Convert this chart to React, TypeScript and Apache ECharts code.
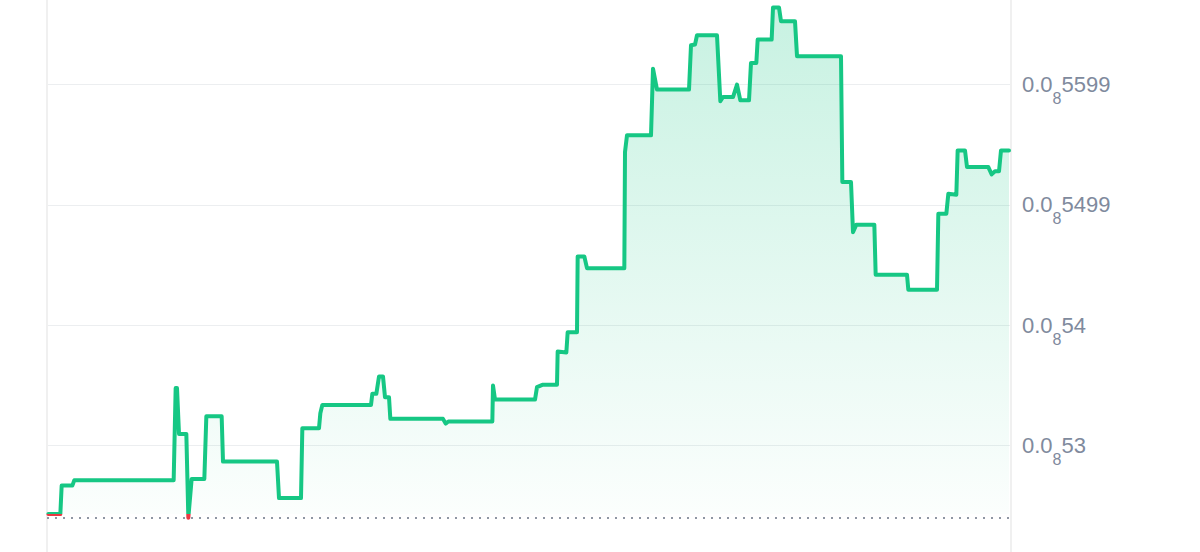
import React, { useEffect, useRef } from "react";
import * as echarts from "echarts";

// time in minutes since start of window
const times: number[] = [
  2, 20, 22, 38, 41, 190, 193, 195, 198, 209, 212, 217, 236, 239, 262, 264, 345, 348, 381, 383,
  408, 410, 413, 486, 488, 494, 498, 504, 507, 513, 515, 594, 598, 602, 668, 669, 672, 732, 735, 743,
  765, 766, 779, 781, 795, 796, 806, 810, 866, 867, 870, 906, 909, 915, 963, 966, 972, 975, 1005, 1010,
  1014, 1029, 1035, 1040, 1053, 1056, 1064, 1066, 1087, 1089, 1098, 1101, 1122, 1125, 1191, 1193, 1206, 1209, 1214, 1241,
  1243, 1290, 1292, 1335, 1337, 1349, 1352, 1364, 1366, 1377, 1380, 1412, 1417, 1422, 1428, 1431, 1443,
];

// price in units of 1e-10
const prices: number[] = [
  5.2431, 5.2431, 5.2668, 5.2668, 5.2713, 5.2713, 5.3478, 5.3478, 5.3097, 5.3097, 5.2401, 5.2723, 5.2723, 5.3244, 5.3244, 5.2867, 5.2867, 5.2564, 5.2564, 5.3144,
  5.3144, 5.3269, 5.3338, 5.3338, 5.343, 5.343, 5.3574, 5.3574, 5.3402, 5.3402, 5.3222, 5.3222, 5.3183, 5.32, 5.32, 5.3499, 5.3382, 5.3382, 5.3486, 5.3505,
  5.3505, 5.3781, 5.3773, 5.3942, 5.3942, 5.4571, 5.4571, 5.4474, 5.4474, 5.5438, 5.5577, 5.5577, 5.6131, 5.5957, 5.5957, 5.6325, 5.6331, 5.6408, 5.6408, 5.586,
  5.5895, 5.5895, 5.5998, 5.5868, 5.5868, 5.6178, 5.6178, 5.6372, 5.6372, 5.6638, 5.6638, 5.6525, 5.6525, 5.6234, 5.6234, 5.5189, 5.5189, 5.4773, 5.4835, 5.4835,
  5.4419, 5.4419, 5.4294, 5.4294, 5.4926, 5.4926, 5.5092, 5.5084, 5.5452, 5.5452, 5.5313, 5.5313, 5.5253, 5.5278, 5.5278, 5.5452, 5.5452,
];

const tickValues: number[] = [5.3, 5.4, 5.5, 5.6];
const tickDigits: string[] = ["53", "54", "5499", "5599"];
const tickPrefix = "0.0";
const tickZeros = "8";

const baseline = prices[0];
const timeMax = 1446;

const GREEN = "#16c784";
const RED = "#ea3943";

export default function App() {
  const ref = useRef<HTMLDivElement>(null);
  useEffect(() => {
    if (!ref.current) return;
    const chart = echarts.init(ref.current, null, { renderer: "svg" });
    const data = times.map((t, i) => [t, prices[i]]);
    chart.setOption({
      animation: false,
      grid: { left: 47, right: 189, top: 0, bottom: 0, containLabel: false },
      xAxis: {
        type: "value",
        min: 0,
        max: timeMax,
        interval: timeMax,
        axisLine: { show: false },
        axisTick: { show: false },
        axisLabel: { show: false },
        splitLine: { show: true, lineStyle: { color: "#f0f0f0", width: 2 } },
      },
      yAxis: {
        type: "value",
        position: "right",
        min: 5.2,
        max: 5.7,
        interval: 0.1,
        axisLine: { show: false },
        axisTick: { show: false },
        splitLine: { show: true, lineStyle: { color: "#eceef0", width: 1 } },
        axisLabel: {
          margin: 11,
          color: "#808a9d",
          fontFamily: "Liberation Sans, Arial, sans-serif",
          fontSize: 22,
          formatter: (v: number) => {
            const i = tickValues.findIndex((tv) => Math.abs(tv - v) < 1e-6);
            if (i < 0) return "";
            return `{m|${tickPrefix}}{s|${tickZeros}}{m|${tickDigits[i]}}`;
          },
          rich: {
            m: { fontSize: 22, color: "#808a9d", fontFamily: "Liberation Sans, Arial, sans-serif" },
            s: {
              fontSize: 16,
              color: "#808a9d",
              fontFamily: "Liberation Sans, Arial, sans-serif",
              padding: [28, 0, 0, 0],
            },
          },
        },
      },
      visualMap: {
        type: "piecewise",
        show: false,
        dimension: 1,
        seriesIndex: 0,
        pieces: [
          { gte: 5.2, lt: baseline, color: RED },
          { gte: baseline, lte: 5.7, color: GREEN },
        ],
      },
      series: [
        {
          type: "line",
          data,
          showSymbol: false,
          symbol: "none",
          lineStyle: { width: 4, cap: "round", join: "round" },
          areaStyle: {
            origin: baseline,
            color: new echarts.graphic.LinearGradient(0, 0, 0, 1, [
              { offset: 0, color: "rgba(22,199,132,0.34)" },
              { offset: 1, color: "rgba(22,199,132,0.02)" },
            ]),
          },
          markLine: {
            silent: true,
            symbol: ["none", "none"],
            label: { show: false },
            lineStyle: { color: "#8f96a3", type: [2, 6], width: 2 },
            data: [{ yAxis: baseline }],
          },
        },
      ],
    });
    return () => chart.dispose();
  }, []);
  return (
    <div
      style={{
        position: "absolute",
        left: 0,
        top: 0,
        width: 1200,
        height: 552,
        overflow: "hidden",
        background: "#fff",
      }}
    >
      <div
        ref={ref}
        style={{ position: "absolute", left: 0, top: -36.33, width: 1200, height: 601.67 }}
      />
    </div>
  );
}
